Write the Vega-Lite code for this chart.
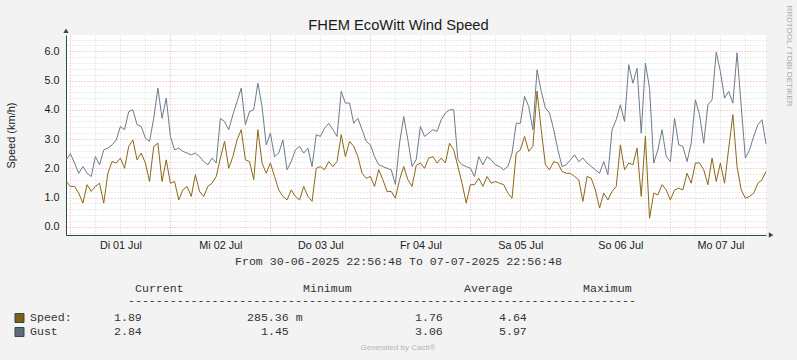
{
  "$schema": "https://vega.github.io/schema/vega-lite/v6.json",
  "background": "#F3F3F3",
  "autosize": {"type": "none"},
  "padding": {"left": 66, "top": 35, "right": 31, "bottom": 325},
  "spacing": 55,
  "bounds": "flush",
  "config": {"view": {"stroke": null}},
  "vconcat": [
    {
      "width": 700,
      "height": 200,
      "view": {"fill": "#FFFFFF", "stroke": null},
      "layer": [
        {
          "data": {"values": [
            {"time":"2025-06-30T23:00","Speed":1.55,"Gust":2.29},
            {"time":"2025-07-01T00:00","Speed":1.38,"Gust":2.5},
            {"time":"2025-07-01T01:00","Speed":1.38,"Gust":2.18},
            {"time":"2025-07-01T02:00","Speed":1.15,"Gust":1.83},
            {"time":"2025-07-01T03:00","Speed":0.81,"Gust":2.06},
            {"time":"2025-07-01T04:00","Speed":1.44,"Gust":1.83},
            {"time":"2025-07-01T05:00","Speed":1.21,"Gust":1.72},
            {"time":"2025-07-01T06:00","Speed":1.38,"Gust":2.4},
            {"time":"2025-07-01T07:00","Speed":1.49,"Gust":2.12},
            {"time":"2025-07-01T08:00","Speed":0.81,"Gust":2.63},
            {"time":"2025-07-01T09:00","Speed":1.83,"Gust":2.69},
            {"time":"2025-07-01T10:00","Speed":2.23,"Gust":2.8},
            {"time":"2025-07-01T11:00","Speed":2.18,"Gust":2.97},
            {"time":"2025-07-01T12:00","Speed":2.35,"Gust":3.43},
            {"time":"2025-07-01T13:00","Speed":2.0,"Gust":3.32},
            {"time":"2025-07-01T14:00","Speed":2.75,"Gust":3.94},
            {"time":"2025-07-01T15:00","Speed":2.97,"Gust":4.0},
            {"time":"2025-07-01T16:00","Speed":2.29,"Gust":3.49},
            {"time":"2025-07-01T17:00","Speed":2.52,"Gust":3.43},
            {"time":"2025-07-01T18:00","Speed":2.18,"Gust":3.03},
            {"time":"2025-07-01T19:00","Speed":1.55,"Gust":2.92},
            {"time":"2025-07-01T20:00","Speed":2.75,"Gust":3.71},
            {"time":"2025-07-01T21:00","Speed":2.86,"Gust":4.74},
            {"time":"2025-07-01T22:00","Speed":1.55,"Gust":3.71},
            {"time":"2025-07-01T23:00","Speed":2.29,"Gust":4.4},
            {"time":"2025-07-02T00:00","Speed":1.49,"Gust":3.09},
            {"time":"2025-07-02T01:00","Speed":1.55,"Gust":2.63},
            {"time":"2025-07-02T02:00","Speed":0.92,"Gust":2.69},
            {"time":"2025-07-02T03:00","Speed":1.26,"Gust":2.58},
            {"time":"2025-07-02T04:00","Speed":1.38,"Gust":2.52},
            {"time":"2025-07-02T05:00","Speed":1.04,"Gust":2.46},
            {"time":"2025-07-02T06:00","Speed":1.78,"Gust":2.52},
            {"time":"2025-07-02T07:00","Speed":1.21,"Gust":2.4},
            {"time":"2025-07-02T08:00","Speed":1.04,"Gust":2.23},
            {"time":"2025-07-02T09:00","Speed":1.38,"Gust":2.12},
            {"time":"2025-07-02T10:00","Speed":1.49,"Gust":2.35},
            {"time":"2025-07-02T11:00","Speed":1.72,"Gust":2.18},
            {"time":"2025-07-02T12:00","Speed":2.35,"Gust":3.71},
            {"time":"2025-07-02T13:00","Speed":2.92,"Gust":3.6},
            {"time":"2025-07-02T14:00","Speed":2.0,"Gust":3.32},
            {"time":"2025-07-02T15:00","Speed":2.4,"Gust":3.83},
            {"time":"2025-07-02T16:00","Speed":2.97,"Gust":4.28},
            {"time":"2025-07-02T17:00","Speed":3.32,"Gust":4.74},
            {"time":"2025-07-02T18:00","Speed":2.29,"Gust":3.49},
            {"time":"2025-07-02T19:00","Speed":2.23,"Gust":3.94},
            {"time":"2025-07-02T20:00","Speed":1.61,"Gust":4.0},
            {"time":"2025-07-02T21:00","Speed":3.32,"Gust":4.91},
            {"time":"2025-07-02T22:00","Speed":2.18,"Gust":4.11},
            {"time":"2025-07-02T23:00","Speed":1.83,"Gust":2.8},
            {"time":"2025-07-03T00:00","Speed":2.18,"Gust":3.2},
            {"time":"2025-07-03T01:00","Speed":1.72,"Gust":2.4},
            {"time":"2025-07-03T02:00","Speed":1.26,"Gust":2.52},
            {"time":"2025-07-03T03:00","Speed":1.04,"Gust":2.97},
            {"time":"2025-07-03T04:00","Speed":0.92,"Gust":1.95},
            {"time":"2025-07-03T05:00","Speed":1.26,"Gust":2.23},
            {"time":"2025-07-03T06:00","Speed":1.04,"Gust":2.63},
            {"time":"2025-07-03T07:00","Speed":0.92,"Gust":2.75},
            {"time":"2025-07-03T08:00","Speed":1.38,"Gust":2.52},
            {"time":"2025-07-03T09:00","Speed":1.04,"Gust":2.69},
            {"time":"2025-07-03T10:00","Speed":0.87,"Gust":2.06},
            {"time":"2025-07-03T11:00","Speed":2.0,"Gust":3.15},
            {"time":"2025-07-03T12:00","Speed":2.06,"Gust":3.09},
            {"time":"2025-07-03T13:00","Speed":1.95,"Gust":3.37},
            {"time":"2025-07-03T14:00","Speed":2.23,"Gust":3.54},
            {"time":"2025-07-03T15:00","Speed":2.06,"Gust":3.32},
            {"time":"2025-07-03T16:00","Speed":2.23,"Gust":3.09},
            {"time":"2025-07-03T17:00","Speed":3.15,"Gust":4.63},
            {"time":"2025-07-03T18:00","Speed":2.4,"Gust":4.23},
            {"time":"2025-07-03T19:00","Speed":2.92,"Gust":4.23},
            {"time":"2025-07-03T20:00","Speed":2.75,"Gust":3.54},
            {"time":"2025-07-03T21:00","Speed":2.4,"Gust":3.71},
            {"time":"2025-07-03T22:00","Speed":1.83,"Gust":3.32},
            {"time":"2025-07-03T23:00","Speed":1.66,"Gust":2.92},
            {"time":"2025-07-04T00:00","Speed":1.72,"Gust":2.8},
            {"time":"2025-07-04T01:00","Speed":1.38,"Gust":2.4},
            {"time":"2025-07-04T02:00","Speed":1.95,"Gust":2.12},
            {"time":"2025-07-04T03:00","Speed":1.61,"Gust":2.06},
            {"time":"2025-07-04T04:00","Speed":1.21,"Gust":2.0},
            {"time":"2025-07-04T05:00","Speed":1.21,"Gust":1.95},
            {"time":"2025-07-04T06:00","Speed":0.98,"Gust":1.45},
            {"time":"2025-07-04T07:00","Speed":1.61,"Gust":2.86},
            {"time":"2025-07-04T08:00","Speed":2.06,"Gust":3.77},
            {"time":"2025-07-04T09:00","Speed":1.61,"Gust":2.97},
            {"time":"2025-07-04T10:00","Speed":1.38,"Gust":2.06},
            {"time":"2025-07-04T11:00","Speed":2.1,"Gust":2.3},
            {"time":"2025-07-04T12:00","Speed":2.18,"Gust":3.43},
            {"time":"2025-07-04T13:00","Speed":2.0,"Gust":3.09},
            {"time":"2025-07-04T14:00","Speed":2.35,"Gust":3.2},
            {"time":"2025-07-04T15:00","Speed":2.4,"Gust":3.32},
            {"time":"2025-07-04T16:00","Speed":2.18,"Gust":3.26},
            {"time":"2025-07-04T17:00","Speed":2.35,"Gust":3.66},
            {"time":"2025-07-04T18:00","Speed":2.18,"Gust":3.89},
            {"time":"2025-07-04T19:00","Speed":2.86,"Gust":4.0},
            {"time":"2025-07-04T20:00","Speed":2.63,"Gust":4.0},
            {"time":"2025-07-04T21:00","Speed":2.06,"Gust":2.29},
            {"time":"2025-07-04T22:00","Speed":1.49,"Gust":2.12},
            {"time":"2025-07-04T23:00","Speed":0.81,"Gust":2.06},
            {"time":"2025-07-05T00:00","Speed":1.44,"Gust":2.0},
            {"time":"2025-07-05T01:00","Speed":1.44,"Gust":1.72},
            {"time":"2025-07-05T02:00","Speed":1.66,"Gust":2.4},
            {"time":"2025-07-05T03:00","Speed":1.38,"Gust":2.12},
            {"time":"2025-07-05T04:00","Speed":1.72,"Gust":2.4},
            {"time":"2025-07-05T05:00","Speed":1.49,"Gust":2.29},
            {"time":"2025-07-05T06:00","Speed":1.55,"Gust":2.12},
            {"time":"2025-07-05T07:00","Speed":1.49,"Gust":2.06},
            {"time":"2025-07-05T08:00","Speed":1.44,"Gust":1.95},
            {"time":"2025-07-05T09:00","Speed":1.15,"Gust":2.06},
            {"time":"2025-07-05T10:00","Speed":0.98,"Gust":2.52},
            {"time":"2025-07-05T11:00","Speed":2.52,"Gust":3.54},
            {"time":"2025-07-05T12:00","Speed":2.63,"Gust":3.54},
            {"time":"2025-07-05T13:00","Speed":3.09,"Gust":4.46},
            {"time":"2025-07-05T14:00","Speed":2.58,"Gust":4.11},
            {"time":"2025-07-05T15:00","Speed":2.75,"Gust":3.32},
            {"time":"2025-07-05T16:00","Speed":4.64,"Gust":5.37},
            {"time":"2025-07-05T17:00","Speed":3.32,"Gust":4.63},
            {"time":"2025-07-05T18:00","Speed":2.12,"Gust":4.06},
            {"time":"2025-07-05T19:00","Speed":1.95,"Gust":3.89},
            {"time":"2025-07-05T20:00","Speed":2.23,"Gust":3.32},
            {"time":"2025-07-05T21:00","Speed":2.18,"Gust":2.63},
            {"time":"2025-07-05T22:00","Speed":1.89,"Gust":2.06},
            {"time":"2025-07-05T23:00","Speed":1.83,"Gust":2.12},
            {"time":"2025-07-06T00:00","Speed":1.83,"Gust":2.29},
            {"time":"2025-07-06T01:00","Speed":1.72,"Gust":2.46},
            {"time":"2025-07-06T02:00","Speed":1.61,"Gust":2.23},
            {"time":"2025-07-06T03:00","Speed":0.87,"Gust":2.35},
            {"time":"2025-07-06T04:00","Speed":1.72,"Gust":2.18},
            {"time":"2025-07-06T05:00","Speed":1.66,"Gust":2.06},
            {"time":"2025-07-06T06:00","Speed":1.26,"Gust":1.95},
            {"time":"2025-07-06T07:00","Speed":0.64,"Gust":1.83},
            {"time":"2025-07-06T08:00","Speed":1.15,"Gust":2.23},
            {"time":"2025-07-06T09:00","Speed":0.92,"Gust":1.78},
            {"time":"2025-07-06T10:00","Speed":1.21,"Gust":3.32},
            {"time":"2025-07-06T11:00","Speed":1.38,"Gust":3.66},
            {"time":"2025-07-06T12:00","Speed":2.8,"Gust":4.17},
            {"time":"2025-07-06T13:00","Speed":1.95,"Gust":3.6},
            {"time":"2025-07-06T14:00","Speed":2.18,"Gust":5.54},
            {"time":"2025-07-06T15:00","Speed":2.12,"Gust":4.91},
            {"time":"2025-07-06T16:00","Speed":2.69,"Gust":5.42},
            {"time":"2025-07-06T17:00","Speed":1.04,"Gust":3.2},
            {"time":"2025-07-06T18:00","Speed":3.09,"Gust":5.6},
            {"time":"2025-07-06T19:00","Speed":0.29,"Gust":4.74},
            {"time":"2025-07-06T20:00","Speed":1.15,"Gust":2.18},
            {"time":"2025-07-06T21:00","Speed":1.09,"Gust":2.63},
            {"time":"2025-07-06T22:00","Speed":1.44,"Gust":3.32},
            {"time":"2025-07-06T23:00","Speed":1.26,"Gust":2.4},
            {"time":"2025-07-07T00:00","Speed":0.92,"Gust":2.23},
            {"time":"2025-07-07T01:00","Speed":1.26,"Gust":3.71},
            {"time":"2025-07-07T02:00","Speed":1.32,"Gust":2.8},
            {"time":"2025-07-07T03:00","Speed":1.26,"Gust":2.75},
            {"time":"2025-07-07T04:00","Speed":1.83,"Gust":2.23},
            {"time":"2025-07-07T05:00","Speed":1.49,"Gust":2.86},
            {"time":"2025-07-07T06:00","Speed":2.18,"Gust":4.34},
            {"time":"2025-07-07T07:00","Speed":2.18,"Gust":3.83},
            {"time":"2025-07-07T08:00","Speed":1.95,"Gust":2.86},
            {"time":"2025-07-07T09:00","Speed":1.44,"Gust":4.17},
            {"time":"2025-07-07T10:00","Speed":2.35,"Gust":4.34},
            {"time":"2025-07-07T11:00","Speed":1.55,"Gust":5.97},
            {"time":"2025-07-07T12:00","Speed":2.18,"Gust":5.31},
            {"time":"2025-07-07T13:00","Speed":1.49,"Gust":4.4},
            {"time":"2025-07-07T14:00","Speed":2.69,"Gust":4.63},
            {"time":"2025-07-07T15:00","Speed":3.83,"Gust":4.23},
            {"time":"2025-07-07T16:00","Speed":2.06,"Gust":5.95},
            {"time":"2025-07-07T17:00","Speed":1.26,"Gust":4.11},
            {"time":"2025-07-07T18:00","Speed":0.98,"Gust":2.35},
            {"time":"2025-07-07T19:00","Speed":1.04,"Gust":2.63},
            {"time":"2025-07-07T20:00","Speed":1.15,"Gust":3.09},
            {"time":"2025-07-07T21:00","Speed":1.49,"Gust":3.49},
            {"time":"2025-07-07T22:00","Speed":1.61,"Gust":3.66},
            {"time":"2025-07-07T22:56","Speed":1.89,"Gust":2.84}
          ]},
          "transform": [{"fold": ["Gust", "Speed"], "as": ["series", "value"]}],
          "mark": {"type": "line", "strokeWidth": 1, "interpolate": "linear"},
          "encoding": {
            "x": {
              "field": "time", "type": "temporal",
              "scale": {"domain": [
                {"year": 2025, "month": 6, "date": 30, "hours": 22, "minutes": 56, "seconds": 48},
                {"year": 2025, "month": 7, "date": 7, "hours": 22, "minutes": 56, "seconds": 48}
              ]},
              "axis": {
                "orient": "bottom",
                "tickCount": 28,
                "grid": true,
                "gridColor": {"condition": {"test": "hours(datum.value) == 0", "value": "#F2A6A6"}, "value": "#D6D6D6"},
                "gridDash": [1, 2],
                "gridWidth": 1,
                "ticks": false,
                "domainColor": "#2C4D43",
                "domainWidth": 1,
                "labelExpr": "hours(datum.value) == 12 ? (['So','Mo','Di','Mi','Do','Fr','Sa'][day(datum.value)] + ' ' + timeFormat(datum.value, '%d') + ' Jul') : ''",
                "labelFont": "Liberation Sans",
                "labelFontSize": 10.8,
                "labelColor": "#1a1a1a",
                "labelPadding": 4,
                "labelOverlap": false,
                "labelFlush": false,
                "labelBound": false,
                "title": "From 30-06-2025 22:56:48 To 07-07-2025 22:56:48",
                "titleFont": "Liberation Mono",
                "titleFontSize": 11.6,
                "titleFontWeight": "normal",
                "titleColor": "#333333",
                "titlePadding": 6,
                "titleX": 332
              }
            },
            "y": {
              "field": "value", "type": "quantitative",
              "scale": {"domain": [-0.28, 6.557], "nice": false, "zero": false},
              "axis": {
                "orient": "left",
                "values": [-0.2, 0, 0.2, 0.4, 0.6, 0.8, 1, 1.2, 1.4, 1.6, 1.8, 2, 2.2, 2.4, 2.6, 2.8, 3, 3.2, 3.4, 3.6, 3.8, 4, 4.2, 4.4, 4.6, 4.8, 5, 5.2, 5.4, 5.6, 5.8, 6, 6.2, 6.4],
                "grid": true,
                "gridColor": {"condition": {"test": "abs(datum.value - round(datum.value)) < 0.001", "value": "#F2A6A6"}, "value": "#D6D6D6"},
                "gridDash": [1, 2],
                "gridWidth": 1,
                "ticks": false,
                "domainColor": "#2C4D43",
                "domainWidth": 1,
                "labelExpr": "abs(datum.value - round(datum.value)) < 0.001 ? format(datum.value, '.1f') : ''",
                "labelFont": "Liberation Sans",
                "labelFontSize": 10.8,
                "labelColor": "#1a1a1a",
                "labelPadding": 7,
                "labelOverlap": false,
                "labelBound": false,
                "labelFlush": false,
                "title": "Speed (km/h)",
                "titleFont": "Liberation Sans",
                "titleFontSize": 11,
                "titleFontWeight": "normal",
                "titleColor": "#1a1a1a",
                "titlePadding": 27
              }
            },
            "color": {
              "field": "series", "type": "nominal",
              "scale": {"domain": ["Gust", "Speed"], "range": ["#6C7B8B", "#8B6914"]},
              "legend": null
            }
          }
        },
        {
          "data": {"values": [
            {"time": "2025-06-30T22:56:48", "value": 6.7}
          ]},
          "mark": {"type": "point", "shape": "triangle-up", "filled": true, "opacity": 1, "color": "#2C4D43", "size": 28, "clip": false},
          "encoding": {
            "x": {
              "field": "time", "type": "temporal",
              "axis": {
                "orient": "top",
                "labels": false, "ticks": false, "domain": false, "grid": false,
                "title": "FHEM EcoWitt Wind Speed",
                "titleFont": "Liberation Sans",
                "titleFontSize": 14.7,
                "titleFontWeight": "normal",
                "titleColor": "#1a1a1a",
                "titlePadding": 3,
                "titleX": 332
              }
            },
            "y": {
              "field": "value", "type": "quantitative",
              "axis": {
                "orient": "right",
                "labels": false, "ticks": false, "domain": false, "grid": false,
                "title": "RRDTOOL / TOBI OETIKER",
                "titleFont": "Liberation Sans",
                "titleFontSize": 8,
                "titleFontWeight": "normal",
                "titleColor": "#A8A8A8",
                "titleAngle": 90,
                "titleAlign": "left",
                "titleBaseline": "bottom",
                "titleY": -30,
                "titlePadding": 18
              }
            }
          }
        },
        {
          "data": {"values": [
            {"time": "2025-07-08T00:10", "value": -0.28}
          ]},
          "mark": {"type": "point", "shape": "triangle-right", "filled": true, "opacity": 1, "color": "#2C4D43", "size": 28, "clip": false},
          "encoding": {
            "x": {"field": "time", "type": "temporal", "axis": null},
            "y": {"field": "value", "type": "quantitative", "axis": null}
          }
        }
      ],
      "resolve": {"axis": {"x": "independent", "y": "independent"}}
    },
    {
      "width": 700,
      "height": 70,
      "view": {"stroke": null},
      "layer": [
        {
          "data": {"values": [
            {"col": 15, "line": -0.1, "text": "Current"},
            {"col": 39, "line": -0.1, "text": "Minimum"},
            {"col": 62, "line": -0.1, "text": "Average"},
            {"col": 79, "line": -0.1, "text": "Maximum"},
            {"col": 14, "line": 0.75, "text": "-------------------------------------------------------------------------"},
            {"col": 0, "line": 2, "text": "Speed:"},
            {"col": 12, "line": 2, "text": "1.89"},
            {"col": 31, "line": 2, "text": "285.36 m"},
            {"col": 55, "line": 2, "text": "1.76"},
            {"col": 67, "line": 2, "text": "4.64"},
            {"col": 0, "line": 3, "text": "Gust"},
            {"col": 12, "line": 3, "text": "2.84"},
            {"col": 33, "line": 3, "text": "1.45"},
            {"col": 55, "line": 3, "text": "3.06"},
            {"col": 67, "line": 3, "text": "5.97"}
          ]},
          "mark": {"type": "text", "font": "Liberation Mono", "fontSize": 11.6, "align": "left", "baseline": "middle", "color": "#333333"},
          "encoding": {
            "x": {"field": "col", "type": "quantitative", "scale": {"domain": [5.143, 105.143], "nice": false, "zero": false}, "axis": null},
            "y": {"field": "line", "type": "quantitative", "scale": {"domain": [0, 5], "reverse": true, "nice": false, "zero": false}, "axis": null},
            "text": {"field": "text", "type": "nominal"}
          }
        },
        {
          "data": {"values": [
            {"col": -1.5, "line": 2, "series": "Speed"},
            {"col": -1.5, "line": 3, "series": "Gust"}
          ]},
          "mark": {"type": "square", "size": 81, "filled": true, "opacity": 1, "stroke": "#2C4D43", "strokeWidth": 1},
          "encoding": {
            "x": {"field": "col", "type": "quantitative", "scale": {"domain": [5.143, 105.143], "nice": false, "zero": false}, "axis": null},
            "y": {"field": "line", "type": "quantitative", "scale": {"domain": [0, 5], "reverse": true, "nice": false, "zero": false}, "axis": null},
            "fill": {"field": "series", "type": "nominal", "scale": {"domain": ["Speed", "Gust"], "range": ["#7F5F10", "#5F6B7B"]}, "legend": null}
          }
        },
        {
          "data": {"values": [
            {"col": 52.57, "line": 4.14, "text": "Generated by Cacti®"}
          ]},
          "mark": {"type": "text", "font": "Liberation Sans", "fontSize": 8, "align": "center", "baseline": "middle", "color": "#B4B4B4"},
          "encoding": {
            "x": {"field": "col", "type": "quantitative", "scale": {"domain": [5.143, 105.143], "nice": false, "zero": false}, "axis": null},
            "y": {"field": "line", "type": "quantitative", "scale": {"domain": [0, 5], "reverse": true, "nice": false, "zero": false}, "axis": null},
            "text": {"field": "text", "type": "nominal"}
          }
        }
      ]
    }
  ]
}
